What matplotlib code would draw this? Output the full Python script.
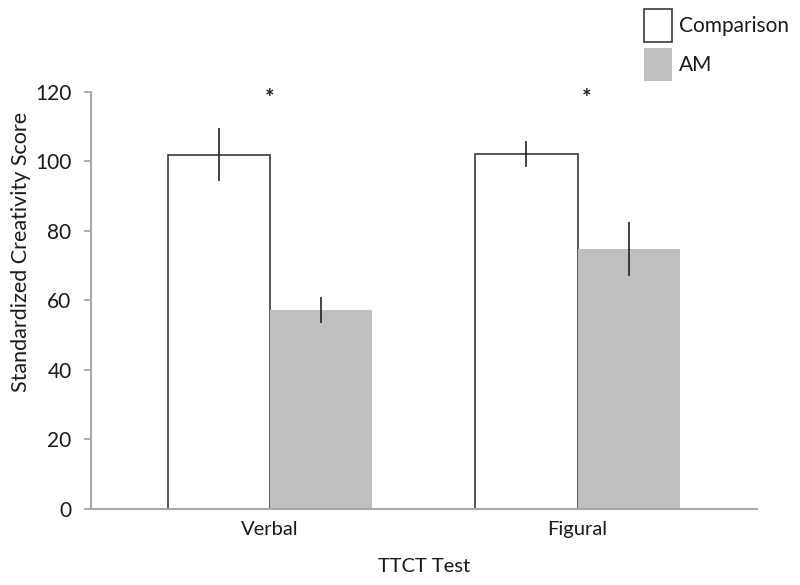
import matplotlib.pyplot as plt
import numpy as np

plt.rcParams['font.family'] = ['Lato', 'DejaVu Sans']

categories = ['Verbal', 'Figural']
series_names = ['Comparison', 'AM']
comparison = [101.9, 102.0]
comparison_err = [7.7, 3.8]
am = [57.2, 74.8]
am_err = [3.8, 7.8]
star_labels = ['*', '*']

fig = plt.figure(figsize=(8, 5.85), dpi=100)
ax = fig.add_axes([0.11375, 0.1304, 0.8325, 0.7128])

x = np.arange(len(categories))
w = 0.333
ax.bar(x - w / 2, comparison, w, color='white', edgecolor='#3a3a3a', linewidth=1.2,
       label=series_names[0], zorder=2)
ax.bar(x + w / 2, am, w, color='#bfbfbf', edgecolor='#bfbfbf', linewidth=0,
       label=series_names[1], zorder=2)
ax.errorbar(x - w / 2, comparison, yerr=comparison_err, fmt='none', ecolor='#222222',
            elinewidth=1.2, capsize=0, zorder=3)
ax.errorbar(x + w / 2, am, yerr=am_err, fmt='none', ecolor='#222222',
            elinewidth=1.2, capsize=0, zorder=3)

# asterisks sit a little off-centre in the original
star_shift = [0.0, 0.03]
for xi, dx, s in zip(x, star_shift, star_labels):
    ax.text(xi + dx, 118, s, ha='center', va='center', fontsize=16,
            fontweight='bold', color='#222222')

ax.set_xlim(-0.582, 1.583)
ax.set_ylim(0, 120)
ax.set_yticks(np.arange(0, 121, 20))
ax.set_xticks(x)
ax.set_xticklabels(categories, fontsize=14.5)
ax.tick_params(axis='y', labelsize=15, length=5, color='#a0a0a0', width=1.2, pad=9,
               labelcolor='#1a1a1a')
ax.tick_params(axis='x', length=0, pad=9, labelcolor='#1a1a1a')
for sp in ['top', 'right']:
    ax.spines[sp].set_visible(False)
for sp in ['left', 'bottom']:
    ax.spines[sp].set_color('#a8a8a8')
    ax.spines[sp].set_linewidth(1.5)

ax.set_ylabel('Standardized Creativity Score', fontsize=15.5, color='#1a1a1a')
ax.yaxis.set_label_coords(-0.09, 0.616)
ax.set_xlabel('TTCT Test', fontsize=14.5, labelpad=14, color='#1a1a1a')

fig.legend(loc='upper left', bbox_to_anchor=(0.8055, 0.985), frameon=False, fontsize=15,
           handlelength=1.34, handleheight=2.06, labelspacing=0.29, handletextpad=0.3,
           borderpad=0, borderaxespad=0, labelcolor='#1a1a1a')

fig.savefig('out.png', dpi=100)
